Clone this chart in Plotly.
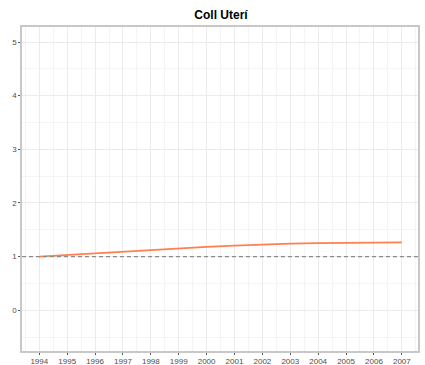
import plotly.graph_objects as go

years = list(range(1994, 2008))
values = [1.0, 1.03, 1.065, 1.10, 1.13, 1.155, 1.18, 1.205, 1.225, 1.24, 1.25, 1.255, 1.26, 1.265]
ref_level = 1.0
title = "Coll Uterí"

fig = go.Figure()
fig.add_trace(go.Scatter(x=years, y=values, mode="lines",
                         line=dict(color="#FF7F50", width=1.8), showlegend=False))
fig.add_hline(y=ref_level, line=dict(color="#8c8c8c", width=1.2, dash="4px,3px"))

axis_common = dict(showline=True, linecolor="#c8c8c8", linewidth=1.5, mirror=True,
                   gridcolor="#ebebeb", gridwidth=1, zeroline=False, automargin=False,
                   ticks="outside", ticklen=2, tickcolor="#555555", tickwidth=1,
                   tickfont=dict(family="Liberation Sans, Arial, sans-serif", size=8, color="#4d4d4d"),
                   minor=dict(showgrid=True, gridcolor="#f4f4f4", gridwidth=1))

fig.update_xaxes(range=[1993.38, 2007.58], tickmode="array", tickvals=years,
                 ticktext=[str(y) for y in years], **axis_common)
fig.update_yaxes(range=[-0.76, 5.28], tickmode="array", tickvals=[0, 1, 2, 3, 4, 5], **axis_common)
fig.update_xaxes(minor=dict(dtick=0.5, tick0=1993.5))
fig.update_yaxes(minor=dict(dtick=0.5, tick0=-0.5))

fig.update_layout(
    width=425, height=365,
    margin=dict(l=22, r=7, t=27, b=14),
    paper_bgcolor="white", plot_bgcolor="white",
    title=dict(text="<b>" + title + "</b>", x=0.52, xanchor="center", y=0.97, yanchor="top",
               font=dict(family="Liberation Sans, Arial, sans-serif", size=12, color="black")),
)
fig.write_html("out.html")
